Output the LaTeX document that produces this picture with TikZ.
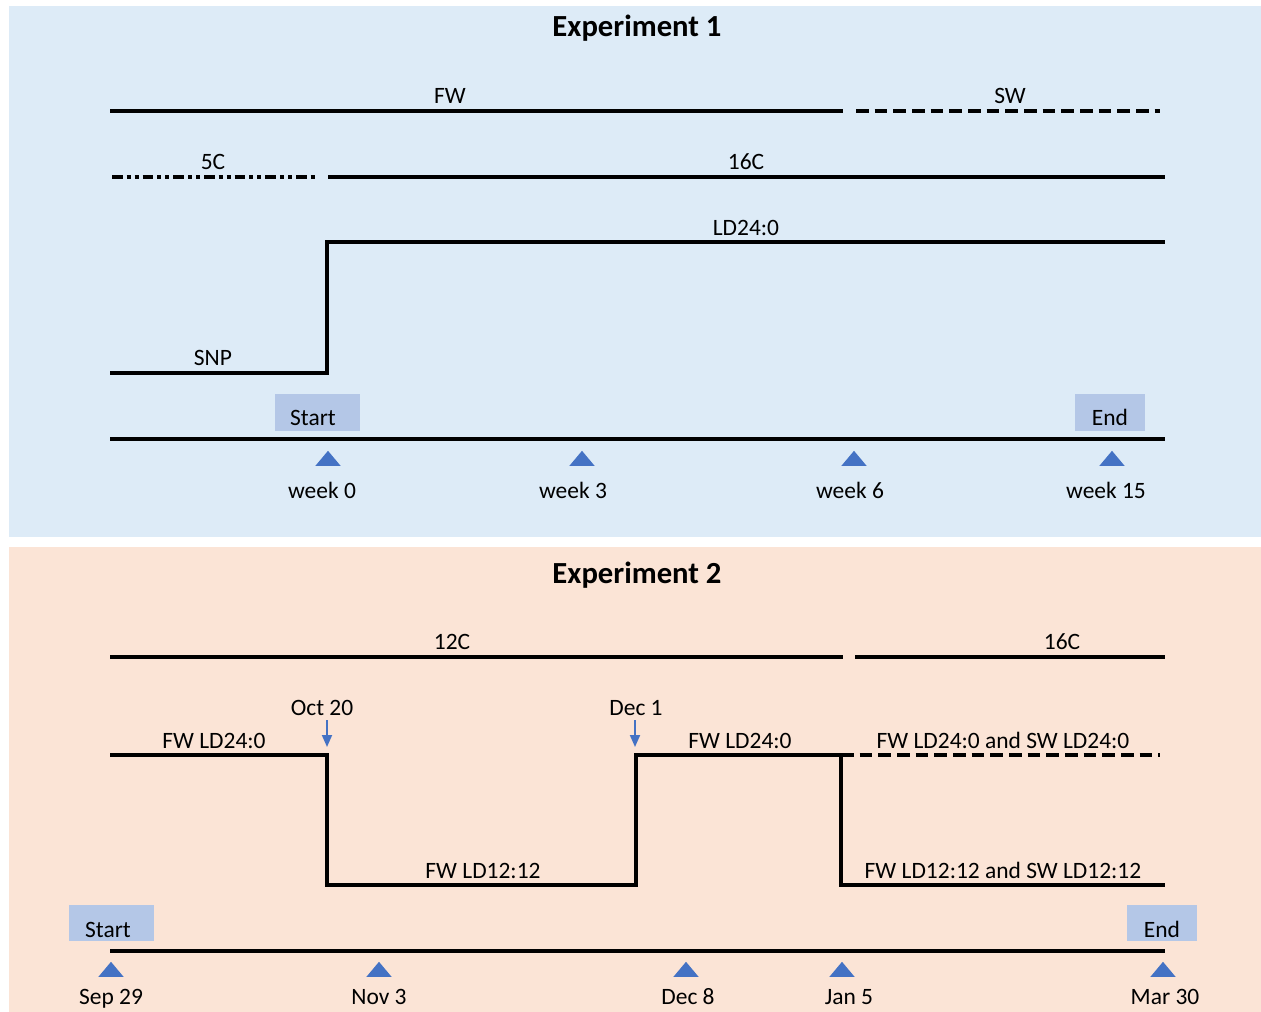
\documentclass[tikz,border=0pt]{standalone}
\usepackage{fontspec}
\setmainfont{Carlito}
\usetikzlibrary{arrows.meta,shapes.geometric}
\definecolor{bgblue}{RGB}{221,235,247}
\definecolor{bgpink}{RGB}{251,228,214}
\definecolor{boxblue}{RGB}{180,199,231}
\definecolor{triblue}{RGB}{68,114,196}
\tikzset{
  lbl/.style={font=\fontsize{17.6}{20}\selectfont, inner sep=0pt, anchor=base},
  ttl/.style={font=\fontsize{23}{26}\selectfont\bfseries, inner sep=0pt, anchor=base},
  tl/.style={line width=2.3pt},
  swdash/.style={line width=2.3pt, dash pattern=on 9.5pt off 4.5pt},
  fivec/.style={line width=2.3pt, dash pattern=on 8pt off 3pt on 3pt off 3pt on 3pt off 3pt},
  marker/.style={fill=triblue, draw=none, isosceles triangle, shape border rotate=90, minimum width=19pt, minimum height=11pt, inner sep=0pt, isosceles triangle apex angle=80},
  tagbox/.style={fill=boxblue, draw=none, inner sep=0pt},
  arr/.style={draw=triblue, line width=1.4pt, -{Triangle[width=7.5pt,length=9pt]}}
}
\begin{document}
\begin{tikzpicture}[x=0.75pt,y=-0.75pt]
\useasboundingbox (0,0) rectangle (1261,1012);
\fill[white] (0,0) rectangle (1261,1012);
\fill[bgblue] (9,6) rectangle (1261,537);
\fill[bgpink] (9,547) rectangle (1261,1012);

% ---------- Experiment 1 ----------
\node[ttl] (t1) at (637,37) {Experiment 1};

\coordinate (fwA) at (110,111); \coordinate (fwB) at (843,111);
\coordinate (swA) at (856,111); \coordinate (swB) at (1160,111);
\draw[tl] (fwA) -- (fwB);
\draw[swdash] (swA) -- (swB);
\node[lbl] (fw) at (450,104) {FW};
\node[lbl] (sw) at (1010,104) {SW};

\coordinate (c5A) at (112,177); \coordinate (c5B) at (318,177);
\coordinate (c16A) at (328,177); \coordinate (c16B) at (1165,177);
\draw[fivec] (c5A) -- (c5B);
\draw[tl] (c16A) -- (c16B);
\node[lbl] (l5c) at (213,170) {5C};
\node[lbl] (l16c) at (746,170) {16C};

\coordinate (ldA) at (110,373); \coordinate (ldB) at (327,373);
\coordinate (ldC) at (327,242); \coordinate (ldD) at (1165,242);
\draw[tl] (ldA) -- (ldB) -- (ldC) -- (ldD);
\node[lbl] (snp) at (213,366) {SNP};
\node[lbl] (ld24) at (746,236) {LD24:0};

\node[tagbox, minimum width=64pt, minimum height=28pt] (start1) at (317.5,412.5) {};
\node[lbl] at (313,426) {Start};
\node[tagbox, minimum width=52.5pt, minimum height=28pt] (end1) at (1110,412.5) {};
\node[lbl] at (1110,426) {End};

\coordinate (ax1A) at (110,439); \coordinate (ax1B) at (1165,439);
\draw[tl] (ax1A) -- (ax1B);

\node[marker] (m10) at (328,460) {};
\node[marker] (m13) at (582,460) {};
\node[marker] (m16) at (854,460) {};
\node[marker] (m115) at (1112,460) {};
\node[lbl] (w0) at (322,499) {week 0};
\node[lbl] (w3) at (573,499) {week 3};
\node[lbl] (w6) at (850,499) {week 6};
\node[lbl] (w15) at (1106,499) {week 15};

% ---------- Experiment 2 ----------
\node[ttl] (t2) at (637,583) {Experiment 2};

\coordinate (c12A) at (110,657); \coordinate (c12B) at (843,657);
\coordinate (c16bA) at (855,657); \coordinate (c16bB) at (1165,657);
\draw[tl] (c12A) -- (c12B);
\draw[tl] (c16bA) -- (c16bB);
\node[lbl] (l12c) at (452,649) {12C};
\node[lbl] (l16c2) at (1062,649) {16C};

\coordinate (pA) at (110,755); \coordinate (pB) at (327,755);
\coordinate (pC) at (327,885); \coordinate (pD) at (636,885);
\coordinate (pE) at (636,755); \coordinate (pF) at (841,755);
\coordinate (pG) at (1160,755); \coordinate (pH) at (841,885);
\coordinate (pI) at (1165,885);
\draw[tl] (pA) -- (pB) -- (pC) -- (pD) -- (pE) -- (pF);
\draw[swdash] (pF) -- (pG);
\draw[tl] (pF) -- (pH) -- (pI);

\node[lbl] (fl1) at (214,748) {FW LD24:0};
\node[lbl] (fl2) at (740,748) {FW LD24:0};
\node[lbl] (fl3) at (1003,748) {FW LD24:0 and SW LD24:0};
\node[lbl] (fl4) at (483,878) {FW LD12:12};
\node[lbl] (fl5) at (1003,878) {FW LD12:12 and SW LD12:12};

\node[lbl] (oct) at (322,715) {Oct 20};
\node[lbl] (dec) at (636,715) {Dec 1};
\coordinate (aoA) at (327,720); \coordinate (aoB) at (327,747);
\coordinate (adA) at (635,720); \coordinate (adB) at (635,747);
\draw[arr] (aoA) -- (aoB);
\draw[arr] (adA) -- (adB);

\node[tagbox, minimum width=64pt, minimum height=27pt] (start2) at (111.5,923) {};
\node[lbl] at (108,937) {Start};
\node[tagbox, minimum width=52.5pt, minimum height=27pt] (end2) at (1162,923) {};
\node[lbl] at (1162,937) {End};

\coordinate (ax2A) at (110,951); \coordinate (ax2B) at (1165,951);
\draw[tl] (ax2A) -- (ax2B);

\node[marker] (m20) at (111,971) {};
\node[marker] (m21) at (379,971) {};
\node[marker] (m22) at (686,971) {};
\node[marker] (m23) at (842,971) {};
\node[marker] (m24) at (1163,971) {};
\node[lbl] (d0) at (111,1004) {Sep 29};
\node[lbl] (d1) at (379,1004) {Nov 3};
\node[lbl] (d2) at (688,1004) {Dec 8};
\node[lbl] (d3) at (849,1004) {Jan 5};
\node[lbl] (d4) at (1165,1004) {Mar 30};
\end{tikzpicture}
\end{document}
